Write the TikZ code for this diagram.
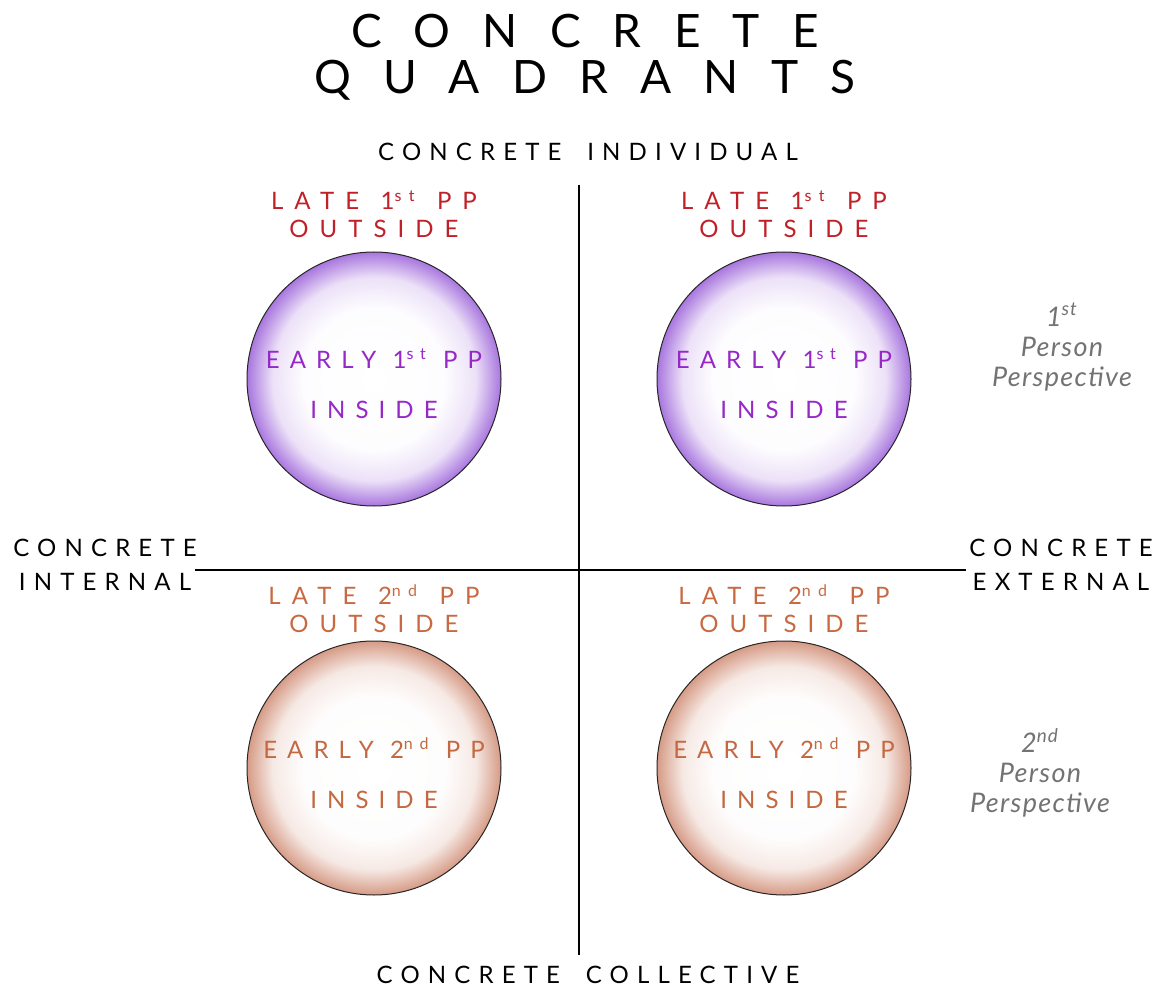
\documentclass[tikz,border=0pt]{standalone}
\usepackage{fontspec}
\setmainfont{Lato}
\newfontfamily\titlefont[LetterSpace=70]{Lato}
\newfontfamily\capfont[LetterSpace=34,WordSpace=1.8]{Lato}
\newfontfamily\latefont[LetterSpace=46,WordSpace=1.25]{Lato}
\newfontfamily\ballfont[LetterSpace=42]{Lato}
\newfontfamily\sidefont[LetterSpace=5]{Lato}
\usetikzlibrary{positioning}

\definecolor{lateRed}{RGB}{192,32,40}
\definecolor{earlyPurple}{RGB}{150,40,200}
\definecolor{lateBrown}{RGB}{200,105,65}
\definecolor{earlyBrown}{RGB}{195,105,65}
\definecolor{sideGray}{RGB}{115,115,115}
\definecolor{ballPurple}{RGB}{168,118,222}
\definecolor{ballPeach}{RGB}{214,155,134}

\pgfdeclareradialshading{purpleball}{\pgfpoint{0bp}{0bp}}{color(0bp)=(white); color(14bp)=(white!98!ballPurple); color(20bp)=(white!78!ballPurple); color(25bp)=(ballPurple); color(50bp)=(ballPurple)}
\pgfdeclareradialshading{peachball}{\pgfpoint{0bp}{0bp}}{color(0bp)=(white); color(14bp)=(white!98!ballPeach); color(20bp)=(white!78!ballPeach); color(25bp)=(ballPeach); color(50bp)=(ballPeach)}

\begin{document}
\begin{tikzpicture}[x=0.5pt,y=-0.5pt,
    axis/.style={line width=0.6pt,black},
    heading/.style={font=\titlefont\fontsize{23}{23}\selectfont,align=center},
    axislabel/.style={font=\capfont\fontsize{12}{17}\selectfont,align=center},
    latelabel/.style={font=\latefont\fontsize{12}{14}\selectfont,align=center,inner sep=1pt},
    sidelabel/.style={font=\sidefont\itshape\fontsize{13.5}{15}\selectfont,align=center,text=sideGray},
    ball/.style={circle,minimum size=127pt,inner sep=0pt,draw=black!85,line width=0.5pt},
    ballone/.style={ball,shading=purpleball},
    balltwo/.style={ball,shading=peachball},
    earlytext/.style={font=\ballfont\fontsize{12}{25}\selectfont,align=center,yshift=-2.5pt}]
    %%%%% START %%%%%
    \def\xl{374}
    \def\xr{784}
    \def\yt{379}
    \def\yb{768}
    \def\xm{579}
    \def\ym{570}

    \useasboundingbox (0,0) rectangle (1158,990);

    \node[heading] (title) at (585,57) {CONCRETE\\QUADRANTS};

    \node[axislabel] (indiv) at (588,152) {CONCRETE INDIVIDUAL};
    \node[axislabel] (coll) at (588,975) {CONCRETE COLLECTIVE};
    \node[axislabel] (internal) at (105,565) {CONCRETE\\INTERNAL};
    \node[axislabel] (external) at (1061,565) {CONCRETE\\EXTERNAL};

    \coordinate (axisTop) at (\xm,185);
    \coordinate (axisBot) at (\xm,955);
    \coordinate (axisLeft) at (195,\ym);
    \coordinate (axisRight) at (966,\ym);
    \draw[axis] (axisTop) -- (axisBot);
    \draw[axis] (axisLeft) -- (axisRight);

    % the four circles
    \node[ballone] (ballTL) at (\xl,\yt) {};
    \node[ballone] (ballTR) at (\xr,\yt) {};
    \node[balltwo] (ballBL) at (\xl,\yb) {};
    \node[balltwo] (ballBR) at (\xr,\yb) {};

    \node[earlytext,text=earlyPurple] (earlyTL) at (ballTL) {EARLY 1\textsuperscript{st} PP\\INSIDE};
    \node[earlytext,text=earlyPurple] (earlyTR) at (ballTR) {EARLY 1\textsuperscript{st} PP\\INSIDE};
    \node[earlytext,text=earlyBrown] (earlyBL) at (ballBL) {EARLY 2\textsuperscript{nd} PP\\INSIDE};
    \node[earlytext,text=earlyBrown] (earlyBR) at (ballBR) {EARLY 2\textsuperscript{nd} PP\\INSIDE};

    \node[latelabel,text=lateRed,above=5.5pt of ballTL] (lateTL) {LATE 1\textsuperscript{st} PP\\OUTSIDE};
    \node[latelabel,text=lateRed,above=5.5pt of ballTR] (lateTR) {LATE 1\textsuperscript{st} PP\\OUTSIDE};
    \node[latelabel,text=lateBrown,above=2.5pt of ballBL] (lateBL) {LATE 2\textsuperscript{nd} PP\\OUTSIDE};
    \node[latelabel,text=lateBrown,above=2.5pt of ballBR] (lateBR) {LATE 2\textsuperscript{nd} PP\\OUTSIDE};

    \node[sidelabel] (firstPP) at (1062,347) {1\textsuperscript{st}\\Person\\Perspective};
    \node[sidelabel] (secondPP) at (1040,773) {2\textsuperscript{nd}\\Person\\Perspective};
    %%%%% END %%%%%
\end{tikzpicture}
\end{document}
